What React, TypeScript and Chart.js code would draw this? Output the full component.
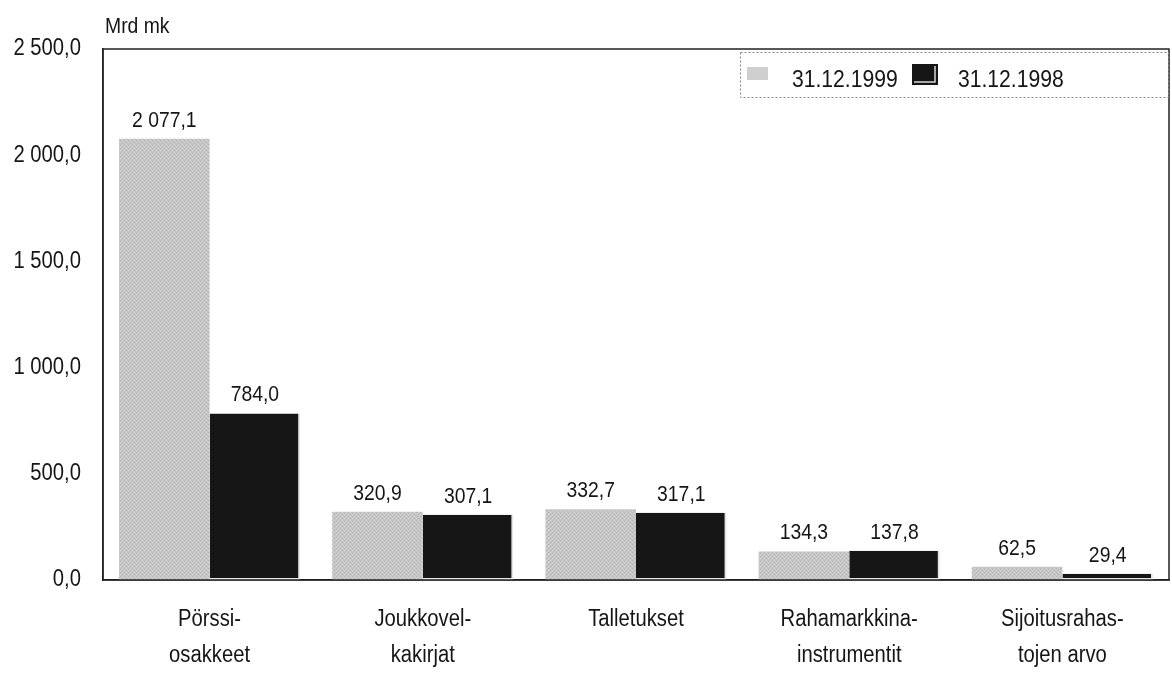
import React, { useEffect, useRef } from "react";
import { Chart, registerables } from "chart.js";

Chart.register(...registerables);

const categories: string[][] = [
  ["Pörssi-", "osakkeet"],
  ["Joukkovel-", "kakirjat"],
  ["Talletukset"],
  ["Rahamarkkina-", "instrumentit"],
  ["Sijoitusrahas-", "tojen arvo"],
];
const seriesNames = ["31.12.1999", "31.12.1998"];
const values1999 = [2077.1, 320.9, 332.7, 134.3, 62.5];
const values1998 = [784.0, 307.1, 317.1, 137.8, 29.4];
const yMin = 0;
const yMax = 2500;
const yStep = 500;
const unitLabel = "Mrd mk";

const FONT = "'Liberation Sans', Arial, sans-serif";
const LIGHT = "#c6c6c6";
const DARK = "#161616";
const TEXT = "#151515";
const SX = 0.88; // horizontal squeeze for a condensed look
const SY = 1.0;

function fmt(v: number): string {
  const s = Math.abs(v).toFixed(1);
  const [ip, dp] = s.split(".");
  const withSp = ip.replace(/\B(?=(\d{3})+(?!\d))/g, " ");
  return (v < 0 ? "-" : "") + withSp + "," + dp;
}

function drawText(
  ctx: CanvasRenderingContext2D,
  text: string,
  x: number,
  y: number,
  size: number,
  align: CanvasTextAlign,
  baseline: CanvasTextBaseline
) {
  ctx.save();
  ctx.translate(x, y);
  ctx.scale(SX, SY);
  ctx.font = `${size}px ${FONT}`;
  ctx.textAlign = align;
  ctx.textBaseline = baseline;
  ctx.fillStyle = TEXT;
  ctx.fillText(text, 0, 0);
  ctx.restore();
}

function makeLightPattern(): CanvasPattern | string {
  const c = document.createElement("canvas");
  c.width = 4;
  c.height = 4;
  const g = c.getContext("2d");
  if (!g) return LIGHT;
  g.fillStyle = LIGHT;
  g.fillRect(0, 0, 4, 4);
  g.fillStyle = "#b4b4b4";
  g.fillRect(0, 0, 1, 1);
  g.fillRect(2, 2, 1, 1);
  g.fillStyle = "#d4d4d4";
  g.fillRect(2, 0, 1, 1);
  g.fillRect(0, 2, 1, 1);
  const p = g.createPattern(c, "repeat");
  return p || LIGHT;
}

const overlayPlugin = {
  id: "overlay",
  afterDraw(chart: any) {
    const ctx: CanvasRenderingContext2D = chart.ctx;
    const ca = chart.chartArea;
    ctx.save();
    // plot frame
    ctx.strokeStyle = "#222";
    ctx.lineWidth = 1.5;
    ctx.strokeRect(ca.left, ca.top, ca.right - ca.left, ca.bottom - ca.top);

    // y tick labels
    const ys = chart.scales.y;
    ys.ticks.forEach((t: any) => {
      drawText(ctx, fmt(t.value), 81, ys.getPixelForValue(t.value), 23, "right", "middle");
    });

    // x tick labels
    const xs = chart.scales.x;
    chart.data.labels.forEach((lab: string[], i: number) => {
      const x = xs.getPixelForTick(i);
      lab.forEach((line, j) => {
        drawText(ctx, line, x, ca.bottom + 40 + j * 36, 23, "center", "middle");
      });
    });

    // value labels
    chart.data.datasets.forEach((ds: any, di: number) => {
      const meta = chart.getDatasetMeta(di);
      meta.data.forEach((el: any, i: number) => {
        drawText(ctx, fmt(ds.data[i]), el.x, el.y - 12, 22, "center", "alphabetic");
      });
    });

    // unit label
    drawText(ctx, unitLabel, 105, 33, 22, "left", "alphabetic");

    // legend
    const lx = 740, ly = 52, lw = 428, lh = 45;
    ctx.strokeStyle = "#888";
    ctx.lineWidth = 1;
    ctx.setLineDash([2, 2]);
    ctx.strokeRect(lx + 0.5, ly + 0.5, lw, lh);
    ctx.setLineDash([]);
    ctx.fillStyle = "#cfcfcf";
    ctx.fillRect(747, 67, 21, 13);
    ctx.fillStyle = DARK;
    ctx.fillRect(912, 64, 26, 21);
    ctx.strokeStyle = "#d8d8d8";
    ctx.lineWidth = 1.5;
    ctx.beginPath();
    ctx.moveTo(935, 66);
    ctx.lineTo(935, 82);
    ctx.lineTo(914, 82);
    ctx.stroke();
    drawText(ctx, seriesNames[0], 792, 87, 24, "left", "alphabetic");
    drawText(ctx, seriesNames[1], 958, 87, 24, "left", "alphabetic");
    ctx.restore();
  },
};

export default function App() {
  const ref = useRef<HTMLCanvasElement | null>(null);
  useEffect(() => {
    document.body.style.margin = "0";
    const canvas = ref.current;
    if (!canvas) return;
    const chart = new Chart(canvas, {
      type: "bar",
      data: {
        labels: categories,
        datasets: [
          {
            label: seriesNames[0],
            data: values1999,
            backgroundColor: makeLightPattern() as any,
            borderWidth: 0,
            categoryPercentage: 0.85,
            barPercentage: 1.0,
          },
          {
            label: seriesNames[1],
            data: values1998,
            backgroundColor: DARK,
            borderColor: "#e6e6e6",
            borderWidth: { right: 2, bottom: 2, top: 0, left: 0 },
            borderSkipped: false,
            categoryPercentage: 0.85,
            barPercentage: 1.0,
          },
        ],
      },
      options: {
        animation: false,
        responsive: false,
        maintainAspectRatio: false,
        layout: { padding: { left: 0, right: 3, top: 49, bottom: 0 } },
        plugins: {
          legend: { display: false },
          tooltip: { enabled: false },
          title: { display: false },
        },
        scales: {
          x: {
            grid: { display: false, drawTicks: false },
            border: { display: true, color: "#222", width: 1.5 },
            ticks: { display: false, autoSkip: false },
            afterFit(scale: any) {
              scale.height = 93;
            },
          },
          y: {
            min: yMin,
            max: yMax,
            grid: { display: false, drawTicks: false },
            border: { display: true, color: "#222", width: 1.5 },
            ticks: { display: false, stepSize: yStep },
            afterFit(scale: any) {
              scale.width = 103;
            },
          },
        },
      },
      plugins: [overlayPlugin],
    });
    return () => chart.destroy();
  }, []);
  return (
    <div style={{ width: 1172, height: 673, position: "relative", background: "#fff" }}>
      <canvas ref={ref} width={1172} height={673} style={{ display: "block" }} />
    </div>
  );
}
